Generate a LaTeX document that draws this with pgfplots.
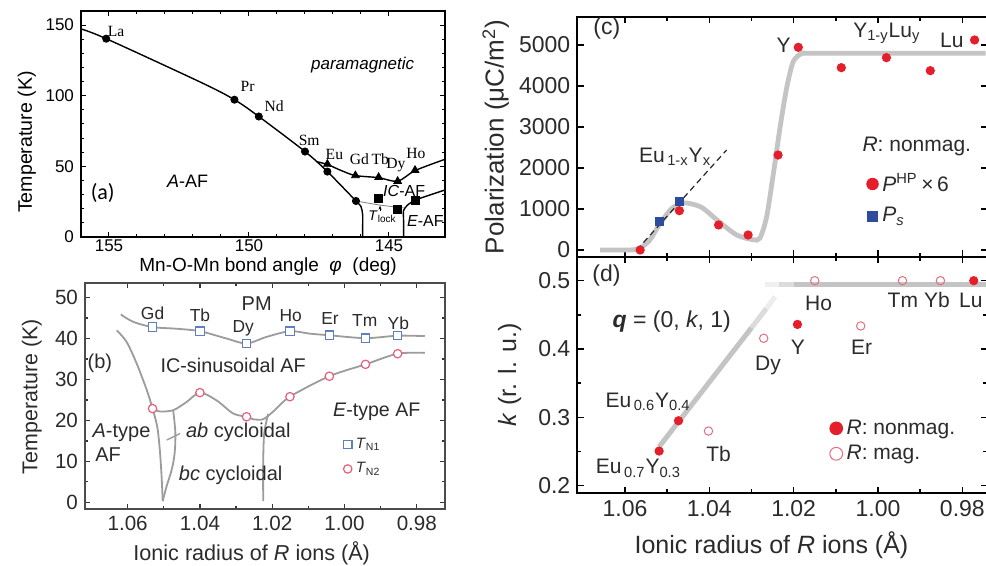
\documentclass[border=0pt]{standalone}
\usepackage{pgfplots}
\pgfplotsset{compat=1.18}
\usetikzlibrary{arrows.meta}
\usepackage{fontspec}
\setmainfont{Liberation Sans}
\newfontfamily\serifL{Liberation Serif}
\newfontfamily\calib{Carlito}
\newcommand{\fs}[1]{\fontsize{#1}{#1}\selectfont}
\definecolor{myred}{HTML}{E41E2B}
\definecolor{myblue}{HTML}{2D4C9B}
\definecolor{bblue}{HTML}{5F7FC2}
\definecolor{bred}{HTML}{E4607A}
\definecolor{bgrey}{HTML}{9C9C9C}
\definecolor{cgrey}{HTML}{C4C4C4}
\definecolor{dpink}{HTML}{E2707E}
\definecolor{txt}{HTML}{2B2B2B}
\begin{document}
\begin{tikzpicture}
\path[use as bounding box, fill=white] (0pt,0pt) rectangle (493pt,283pt);

% ---------------- (a) ----------------
\begin{axis}[
  at={(40.5pt,164.5pt)}, anchor=south west, scale only axis,
  width=182pt, height=113pt,
  x dir=reverse, xmin=143, xmax=156, ymin=0, ymax=160,
  xtick={145,150,155}, minor x tick num=4,
  ytick={0,50,100,150}, minor y tick num=4,
  tick align=inside, major tick length=2.6pt, minor tick length=1.6pt,
  axis line style={line width=0.9pt},
  every tick/.append style={line width=0.5pt, black},
  /pgf/number format/assume math mode=true,
  tick label style={font=\fs{8.5}},
  xticklabel style={inner sep=1pt},
  xlabel={Mn-O-Mn bond angle \ \textit{φ} \ (deg)},
  xlabel style={at={(axis description cs:0.514,-0.132)}, anchor=center, inner sep=0pt, font=\fs{9.5}},
  ylabel={Temperature (K)},
  ylabel style={at={(axis description cs:-0.149,0.42)}, anchor=center, font=\fs{9.8}},
  clip=false,
]
\addplot[black, line width=0.7pt, smooth, tension=0.5] coordinates {(156,147.3) (155.1,140.4) (151.71,109.4) (150.52,97.2) (149.65,85.3) (148.0,60.5) (147.2,46.3) (146.18,25.5)};
\addplot[black, line width=0.7pt, smooth, tension=0.5] coordinates {(146.18,25.5) (146.0,21.5) (145.94,15.6) (145.94,8) (145.94,0)};
\addplot[black, line width=0.7pt, smooth, tension=0.5] coordinates {(147.6,53.4) (147.2,51.3) (146.7,47) (146.2,43.5) (145.37,42.0) (144.69,39.5) (144.07,47.0) (143,55)};
\addplot[black, line width=0.7pt, smooth, tension=0.5] coordinates {(144.48,0) (144.48,12) (144.48,18.7) (144.33,22.7) (144.07,26.2)};
\addplot[black, line width=0.7pt] coordinates {(144.07,26.2) (143,33.3)};
\addplot[gray, line width=0.4pt] coordinates {(146.18,25.5) (145.37,22.7) (144.69,21.0) (144.48,20.6)};
\addplot[only marks, mark=*, mark size=1.8pt, black] coordinates {(155.1,140.4) (150.52,97.2) (149.65,85.3) (148.0,60.5) (147.2,46.3) (146.18,25.5)};
\addplot[only marks, mark=triangle*, mark size=2.2pt, black] coordinates {(147.2,51.6) (146.2,43.5) (145.37,42.3) (144.69,39.5) (144.07,47.3)};
\addplot[only marks, mark=square*, mark size=2.0pt, black] coordinates {(145.37,27.4) (144.69,19.6) (144.07,26.2)};
\node[font=\serifL\fs{7.8}] at (axis cs:154.75,145.6) {La};
\node[font=\serifL\fs{7.8}] at (axis cs:150.05,106.6) {Pr};
\node[font=\serifL\fs{7.8}] at (axis cs:149.1,92.9) {Nd};
\node[font=\serifL\fs{7.8}] at (axis cs:147.85,68.3) {Sm};
\node[font=\serifL\fs{7.8}] at (axis cs:146.95,58.7) {Eu};
\node[font=\serifL\fs{7.8}] at (axis cs:146.06,55.1) {Gd};
\node[font=\serifL\fs{7.8}] at (axis cs:145.31,55.1) {Tb};
\node[font=\serifL\fs{7.8}] at (axis cs:144.75,51.1) {Dy};
\node[font=\serifL\fs{7.8}] at (axis cs:144.04,59.4) {Ho};
\node[font=\itshape\fs{8.5}] at (axis cs:145.94,122) {paramagnetic};
\node[font=\fs{9}] at (axis cs:152.19,39.2) {\textit{A}-AF};
\node[font=\calib\fs{11}] at (axis cs:155.225,31) {(a)};
\node[font=\fs{8}] at (axis cs:144.46,32.8) {\textit{IC}-AF};
\node[font=\fs{7}] at (axis cs:145.23,14.4) {\textit{T}\textsubscript{lock}};
\node[font=\fs{8}] at (axis cs:143.7,11.6) {\textit{E}-AF};
\draw[-{Stealth[length=2pt]}, line width=0.4pt] (axis cs:145.32,18.3) -- (axis cs:145.32,22.2);
\end{axis}

% ---------------- (b) ----------------
\begin{axis}[
  at={(42.5pt,28.35pt)}, anchor=south west, scale only axis,
  width=180pt, height=113pt,
  x dir=reverse, xmin=0.9722, xmax=1.0718, ymin=-1.7, ymax=53.5,
  xtick={0.98,1.00,1.02,1.04,1.06}, xticklabels={0.98,1.00,1.02,1.04,1.06}, minor x tick num=1,
  ytick={0,10,20,30,40,50}, minor y tick num=1,
  tick align=inside, major tick length=2.6pt, minor tick length=1.6pt,
  axis line style={line width=0.8pt, draw=black!70},
  every tick/.append style={line width=0.6pt, black!80},
  /pgf/number format/assume math mode=true,
  tick label style={font=\fs{10.3}, text=txt},
  xlabel={Ionic radius of \textit{R} ions (Å)},
  xlabel style={at={(axis description cs:0.463,-0.195)}, anchor=center, font=\fs{10.8}, text=txt},
  ylabel={Temperature (K)},
  ylabel style={at={(axis description cs:-0.148,0.498)}, anchor=center, font=\fs{10.7}, text=txt},
  legend style={at={(axis description cs:0.717,0.335)}, anchor=north west, draw=none, fill=none, font=\fs{7.5}, row sep=1.5pt, inner sep=0pt, text=txt},
  legend cell align=left,
  clip=false,
]
\addplot[bgrey, line width=0.9pt, smooth, forget plot] coordinates {(1.0619,45.9) (1.0585,44.1) (1.0531,42.8) (1.0465,42.4) (1.04,41.8) (1.0326,40.0) (1.0271,38.8) (1.0216,40.4) (1.0151,41.8) (1.0096,41.2) (1.0042,40.8) (0.9942,40.1) (0.9853,40.7) (0.9778,40.6)};
\addplot[bgrey, line width=0.9pt, smooth, forget plot] coordinates {(1.0531,22.9) (1.0511,22.2) (1.0474,22.5) (1.0437,24.5) (1.04,26.8) (1.0354,24.9) (1.0308,21.7) (1.0271,20.9) (1.0253,20.3) (1.0225,20.3) (1.0197,22.2) (1.0151,25.8) (1.0042,30.8) (0.9942,33.7) (0.9853,36.3) (0.9778,36.5)};
\addplot[bgrey, line width=0.9pt, smooth, forget plot] coordinates {(1.0630,42.0) (1.0603,39.2) (1.0575,33.9) (1.0547,27.4) (1.0531,22.9) (1.0518,18.4) (1.0511,12.8) (1.0506,6.2) (1.0503,0.3)};
\addplot[bgrey, line width=0.9pt, smooth, forget plot] coordinates {(1.0474,22.5) (1.0468,17) (1.0470,12) (1.0478,8) (1.0492,4) (1.0503,0.3)};
\addplot[bgrey, line width=0.9pt, smooth, forget plot] coordinates {(1.0211,21.6) (1.0222,17) (1.0225,10) (1.0225,0.3)};
\addplot[bgrey, line width=0.7pt, forget plot] coordinates {(1.0492,15.2) (1.0455,16.8)};
\addplot[only marks, mark=square*, mark size=2.1pt, bblue, mark options={fill=white, line width=0.6pt}, forget plot] coordinates {(1.0531,42.8) (1.04,41.8) (1.0271,38.8) (1.0151,41.8) (1.0042,40.8) (0.9942,40.1) (0.9853,40.7)};
\addplot[only marks, mark=*, mark size=2.1pt, bred, mark options={fill=white, line width=0.6pt}, forget plot] coordinates {(1.0531,22.9) (1.04,26.8) (1.0271,20.9) (1.0151,25.8) (1.0042,30.8) (0.9942,33.7) (0.9853,36.3)};
\addlegendimage{only marks, mark=square, mark size=2.1pt, bblue, mark options={line width=0.6pt}}
\addlegendentry{\textit{T}\textsubscript{N1}}
\addlegendimage{only marks, mark=o, mark size=2.1pt, bred, mark options={line width=0.6pt}}
\addlegendentry{\textit{T}\textsubscript{N2}}
\node[font=\fs{10}, text=txt] at (axis cs:1.0243,48.5) {PM};
\node[font=\fs{8.7}, text=txt] at (axis cs:1.0531,46.2) {Gd};
\node[font=\fs{8.7}, text=txt] at (axis cs:1.04,45.7) {Tb};
\node[font=\fs{8.7}, text=txt] at (axis cs:1.028,42.4) {Dy};
\node[font=\fs{8.7}, text=txt] at (axis cs:1.0149,45.5) {Ho};
\node[font=\fs{8.7}, text=txt] at (axis cs:1.004,45.0) {Er};
\node[font=\fs{8.7}, text=txt] at (axis cs:0.9944,44.3) {Tm};
\node[font=\fs{8.7}, text=txt] at (axis cs:0.9851,43.8) {Yb};
\node[font=\fs{9.9}, text=txt] at (axis cs:1.0308,33.5) {IC-sinusoidal AF};
\node[font=\fs{10}, text=txt] at (axis cs:1.0677,34.0) {(b)};
\node[font=\fs{9.8}, text=txt] at (axis cs:0.9911,22.1) {\textit{E}-type AF};
\node[font=\fs{10}, text=txt] at (axis cs:1.0617,17.1) {\textit{A}-type};
\node[font=\fs{10}, text=txt] at (axis cs:1.0654,11.7) {AF};
\node[font=\fs{10}, text=txt] at (axis cs:1.0294,17.0) {\textit{ab} cycloidal};
\node[font=\fs{10}, text=txt] at (axis cs:1.0315,6.7) {\textit{bc} cycloidal};
\end{axis}

% ---------------- (c) ----------------
\begin{axis}[
  at={(288.65pt,154.65pt)}, anchor=south west, scale only axis,
  width=205pt, height=120pt,
  x dir=reverse, xmin=0.97409, xmax=1.0713, ymin=-163, ymax=5690,
  xtick={0.98,1.00,1.02,1.04,1.06}, minor x tick num=1, xticklabels={},
  ytick={0,1000,2000,3000,4000,5000}, yticklabels={0,1000,2000,3000,4000,5000},
  tick align=inside, major tick length=3.2pt, minor tick length=2pt,
  axis line style={line width=1pt},
  every tick/.append style={line width=0.7pt, black},
  /pgf/number format/assume math mode=true,
  tick label style={font=\fs{11.5}, text=txt},
  ylabel={Polarization (μC/m\textsuperscript{2})},
  ylabel style={at={(axis description cs:-0.199,0.499)}, anchor=center, font=\fs{13}, text=txt},
  legend style={at={(axis description cs:0.705,0.365)}, anchor=north west, draw=none, fill=none, font=\fs{10.5}, row sep=2.5pt, inner sep=0pt, text=txt},
  legend cell align=left,
  clip=false,
]
\addplot[cgrey, line width=2.4pt, smooth, tension=0.45, forget plot] coordinates {(1.0659,0) (1.0590,0) (1.0565,40) (1.0541,244) (1.0519,610) (1.0490,1000) (1.0462,1150) (1.0420,1050) (1.0378,700) (1.0335,366) (1.0296,250) (1.0280,290) (1.0264,812) (1.0248,1870) (1.0232,3007) (1.0216,3983) (1.0201,4593) (1.0181,4790) (1.0150,4800) (0.9745,4800)};
\addplot[black!85, densely dashed, line width=0.6pt, forget plot] coordinates {(1.0572,0) (1.0359,2439)};
\addplot[only marks, mark=*, mark size=2.1pt, myred, forget plot] coordinates {(1.0564,0) (1.0471,959) (1.0378,610) (1.0308,366) (1.0237,2317) (1.0189,4943) (1.0087,4447) (0.998,4691) (0.9876,4374) (0.9771,5122)};
\addplot[only marks, mark=square*, mark size=2.1pt, myblue, forget plot] coordinates {(1.0519,691) (1.0471,1179)};
\addlegendimage{only marks, mark=*, mark size=2.9pt, myred}
\addlegendentry{\textit{P}\textsuperscript{HP}\,×\,6}
\addlegendimage{only marks, mark=square*, mark size=2.6pt, myblue}
\addlegendentry{\textit{P}\textsubscript{\textit{s}}}
\node[font=\fs{11.5}, text=txt] at (axis cs:1.0643,5407) {(c)};
\node[font=\fs{10.5}, text=txt] at (axis cs:1.0224,5000) {Y};
\node[font=\fs{10.5}, text=txt] at (axis cs:0.9979,5285) {Y\textsubscript{1-y}Lu\textsubscript{y}};
\node[font=\fs{10.5}, text=txt] at (axis cs:0.9825,5105) {Lu};
\node[font=\fs{10.5}, text=txt] at (axis cs:0.9908,2537) {\textit{R}: nonmag.};
\node[font=\fs{10.5}, text=txt] at (axis cs:1.0481,2276) {Eu\textsubscript{\,1-x}Y\textsubscript{x}};
\end{axis}

% ---------------- (d) ----------------
\begin{axis}[
  at={(288.65pt,36.35pt)}, anchor=south west, scale only axis,
  width=205pt, height=118.3pt,
  x dir=reverse, xmin=0.97409, xmax=1.0713, ymin=0.1889, ymax=0.5351,
  xtick={0.98,1.00,1.02,1.04,1.06}, xticklabels={0.98,1.00,1.02,1.04,1.06}, minor x tick num=1,
  ytick={0.2,0.3,0.4,0.5}, yticklabels={0.2,0.3,0.4,0.5}, minor y tick num=1,
  tick align=inside, major tick length=3.2pt, minor tick length=2pt,
  axis line style={line width=1pt},
  every tick/.append style={line width=0.7pt, black},
  /pgf/number format/assume math mode=true,
  tick label style={font=\fs{11.5}, text=txt},
  xlabel={Ionic radius of \textit{R} ions (Å)},
  xlabel style={at={(axis description cs:0.4735,-0.2185)}, anchor=center, font=\fs{12.5}, text=txt},
  ylabel={\textit{k} (r. l. u.)},
  ylabel style={at={(axis description cs:-0.1647,0.5)}, anchor=center, font=\fs{12.5}, text=txt},
  legend style={at={(axis description cs:0.615,0.33)}, anchor=north west, draw=none, fill=none, font=\fs{10.5}, row sep=0pt, inner sep=0pt, text=txt},
  legend cell align=left,
  clip=false,
]
\addplot[cgrey, line width=2.5pt, forget plot] coordinates {(1.0519,0.257) (1.0300,0.431)};
\addplot[cgrey, line width=2.5pt, opacity=0.6, forget plot] coordinates {(1.0300,0.431) (1.0265,0.459)};
\addplot[cgrey, line width=2.5pt, opacity=0.3, forget plot] coordinates {(1.0265,0.459) (1.0244,0.4766)};
\addplot[cgrey, line width=2.5pt, opacity=0.25, forget plot] coordinates {(1.0268,0.495) (1.0235,0.495)};
\addplot[cgrey, line width=2.5pt, opacity=0.6, forget plot] coordinates {(1.0235,0.495) (1.0200,0.495)};
\addplot[cgrey, line width=2.5pt, forget plot] coordinates {(1.0200,0.495) (0.9741,0.495)};
\addplot[only marks, mark=*, mark size=2.1pt, myred, forget plot] coordinates {(1.0519,0.2507) (1.0473,0.295) (1.0191,0.436) (0.9773,0.5)};
\addplot[only marks, mark=o, mark size=2.1pt, dpink, mark options={line width=0.5pt}, forget plot] coordinates {(1.0402,0.280) (1.0271,0.4157) (1.015,0.5) (1.0041,0.4337) (0.9942,0.5) (0.9852,0.5)};
\addlegendimage{only marks, mark=*, mark size=3.2pt, myred}
\addlegendentry{\textit{R}: nonmag.}
\addlegendimage{only marks, mark=o, mark size=3.2pt, dpink, mark options={line width=0.5pt}}
\addlegendentry{\textit{R}: mag.}
\node[font=\fs{11.5}, text=txt] at (axis cs:1.0644,0.508) {(d)};
\node[font=\fs{10.5}, text=txt] at (axis cs:1.0141,0.467) {Ho};
\node[font=\fs{10.5}, text=txt] at (axis cs:0.9941,0.4717) {Tm};
\node[font=\fs{10.5}, text=txt] at (axis cs:0.9860,0.4717) {Yb};
\node[font=\fs{10.5}, text=txt] at (axis cs:0.9780,0.4717) {Lu};
\node[font=\fs{11.5}, text=txt] at (axis cs:1.0489,0.44) {\textbf{\textit{q}} = (0, \textit{k}, 1)};
\node[font=\fs{10.5}, text=txt] at (axis cs:1.0261,0.3766) {Dy};
\node[font=\fs{10.5}, text=txt] at (axis cs:1.0190,0.4025) {Y};
\node[font=\fs{10.5}, text=txt] at (axis cs:1.0039,0.4025) {Er};
\node[font=\fs{10.5}, text=txt] at (axis cs:1.0545,0.3228) {Eu\textsubscript{\,0.6}Y\textsubscript{0.4}};
\node[font=\fs{10.5}, text=txt] at (axis cs:1.0378,0.2463) {Tb};
\node[font=\fs{10.5}, text=txt] at (axis cs:1.0568,0.2253) {Eu\textsubscript{\,0.7}Y\textsubscript{0.3}};
\end{axis}
\end{tikzpicture}
\end{document}
